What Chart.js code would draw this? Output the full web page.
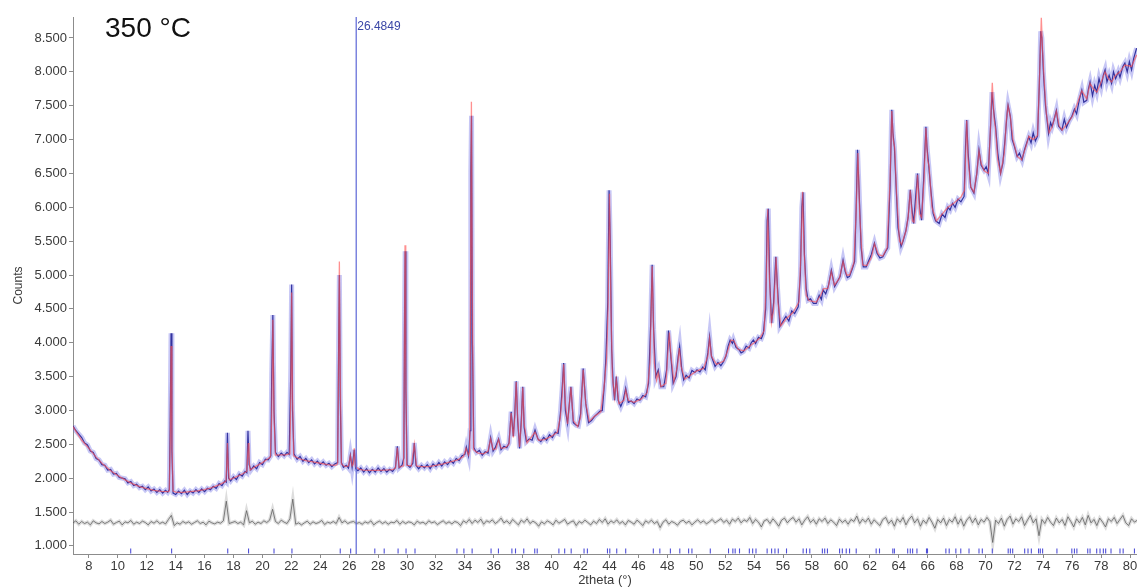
<!DOCTYPE html>
<html>
<head>
<meta charset="utf-8">
<script src="https://cdn.jsdelivr.net/npm/chart.js@4.4.1/dist/chart.umd.min.js"></script>
<style>
  html, body { margin: 0; padding: 0; background: #fff; }
  #wrap { width: 1142px; height: 588px; }
</style>
</head>
<body>
<div id="wrap"><canvas id="xrd"></canvas></div>
<script>
// labels
const sampleLabel = '350 °C';
const cursorTheta = 26.4849;
const xTitle = '2theta (°)';
const yTitle = 'Counts';
const xTickValues = [8,10,12,14,16,18,20,22,24,26,28,30,32,34,36,38,40,42,44,46,48,50,52,54,56,58,60,62,64,66,68,70,72,74,76,78,80];
const yTickValues = [1000,1500,2000,2500,3000,3500,4000,4500,5000,5500,6000,6500,7000,7500,8000,8500];

// observed pattern [2theta, counts]
const observed = [
  [6.9,2770],[7.1,2700],[7.3,2650],[7.5,2600],[7.7,2520],[7.9,2490],[8.1,2400],[8.3,2380],[8.5,2290],[8.7,2270],
  [8.9,2200],[9.1,2190],[9.3,2120],[9.5,2130],[9.7,2060],[9.9,2070],[10.1,2010],[10.3,2000],[10.5,1990],[10.7,1930],
  [10.9,1950],[11.1,1890],[11.3,1910],[11.5,1860],[11.7,1880],[11.9,1830],[12.1,1870],[12.3,1810],[12.5,1840],[12.7,1790],
  [12.9,1830],[13.1,1780],[13.3,1820],[13.45,1790],[13.56,1830],[13.62,2800],[13.68,4140],[13.74,2400],[13.82,1780],
  [14.0,1760],[14.2,1810],[14.4,1770],[14.6,1820],[14.8,1760],[15.0,1810],[15.2,1780],[15.4,1830],[15.6,1790],[15.8,1840],
  [16.0,1800],[16.2,1850],[16.4,1830],[16.6,1880],[16.8,1850],[17.0,1920],[17.2,1890],[17.4,1960],[17.5,1940],
  [17.58,2670],[17.66,2000],[17.8,1960],[18.0,2020],[18.2,1980],[18.4,2060],[18.6,2030],[18.8,2100],[18.92,2080],
  [19.0,2700],[19.08,2200],[19.2,2120],[19.4,2180],[19.6,2140],[19.8,2230],[20.0,2200],[20.2,2280],[20.4,2270],
  [20.58,2330],[20.64,3500],[20.72,4410],[20.8,3000],[20.9,2380],[21.1,2320],[21.3,2370],[21.5,2330],[21.7,2380],
  [21.85,2350],[21.96,3600],[22.02,4860],[22.08,3000],[22.18,2360],[22.4,2280],[22.6,2320],[22.8,2250],[23.0,2290],
  [23.2,2230],[23.4,2270],[23.6,2210],[23.8,2250],[24.0,2200],[24.2,2240],[24.4,2190],[24.6,2220],[24.8,2170],
  [25.0,2210],[25.2,2230],[25.27,4000],[25.32,5000],[25.38,3200],[25.46,2230],[25.6,2160],[25.8,2190],[25.95,2150],
  [26.08,2340],[26.2,2160],[26.35,2420],[26.45,2140],[26.6,2110],[26.8,2150],[27.0,2090],[27.2,2140],[27.4,2080],
  [27.6,2130],[27.8,2090],[28.0,2150],[28.2,2100],[28.4,2140],[28.6,2090],[28.8,2130],[29.0,2100],[29.2,2160],
  [29.33,2470],[29.45,2150],[29.65,2190],[29.78,2300],[29.83,4500],[29.87,5350],[29.92,3300],[30.0,2200],[30.2,2160],
  [30.4,2220],[30.5,2520],[30.62,2190],[30.8,2140],[31.0,2190],[31.2,2150],[31.4,2200],[31.6,2140],[31.8,2210],
  [32.0,2170],[32.2,2230],[32.4,2180],[32.6,2240],[32.8,2200],[33.0,2260],[33.2,2220],[33.4,2290],[33.6,2260],
  [33.8,2330],[34.0,2350],[34.1,2460],[34.25,2330],[34.36,2700],[34.41,6500],[34.46,7350],[34.52,4000],[34.62,2450],
  [34.8,2380],[35.0,2410],[35.2,2340],[35.4,2390],[35.6,2370],[35.78,2600],[35.95,2400],[36.1,2450],[36.33,2580],
  [36.5,2420],[36.7,2470],[36.9,2450],[37.05,2520],[37.2,2980],[37.35,2620],[37.45,2950],[37.55,3430],[37.65,2850],
  [37.78,2440],[37.9,2850],[38.0,3350],[38.1,2750],[38.25,2540],[38.45,2580],[38.65,2560],[38.85,2710],[39.05,2580],
  [39.25,2540],[39.45,2600],[39.65,2560],[39.85,2640],[40.05,2600],[40.25,2680],[40.45,2660],[40.6,2950],[40.72,3300],
  [40.83,3700],[40.95,3000],[41.1,2810],[41.33,3350],[41.5,2820],[41.7,2780],[41.85,2770],[42.0,2950],[42.18,3620],
  [42.36,3100],[42.55,2820],[42.75,2850],[42.95,2910],[43.15,2950],[43.35,2990],[43.5,3000],[43.65,3400],[43.75,3770],
  [43.88,4600],[43.97,6250],[44.05,5500],[44.15,3900],[44.25,3400],[44.35,3150],[44.47,3500],[44.6,3150],[44.78,3060],
  [44.95,3150],[45.12,3330],[45.3,3120],[45.5,3140],[45.7,3100],[45.9,3170],[46.1,3150],[46.3,3220],[46.5,3200],
  [46.7,3400],[46.85,4300],[46.95,5150],[47.05,4200],[47.2,3500],[47.37,3600],[47.55,3350],[47.75,3350],[47.95,3600],
  [48.08,4180],[48.2,3900],[48.4,3400],[48.6,3500],[48.75,3800],[48.85,3950],[49.0,3600],[49.13,3450],[49.3,3520],
  [49.5,3480],[49.7,3590],[49.9,3560],[50.05,3600],[50.25,3570],[50.45,3640],[50.62,3600],[50.8,3850],[50.92,4090],
  [51.05,3800],[51.3,3650],[51.5,3710],[51.7,3660],[51.88,3720],[52.05,3800],[52.2,3950],[52.34,4040],[52.5,3990],
  [52.57,4040],[52.75,3930],[52.95,3900],[53.1,3850],[53.26,3870],[53.45,3950],[53.65,3920],[53.8,4000],[53.95,4040],
  [54.1,3990],[54.3,4080],[54.5,4060],[54.64,4140],[54.8,4500],[54.9,5800],[54.98,5980],[55.08,4900],[55.21,4290],
  [55.35,4600],[55.5,5270],[55.62,4800],[55.78,4240],[55.95,4300],[56.2,4390],[56.4,4320],[56.6,4470],[56.8,4430],
  [57.05,4530],[57.2,5000],[57.3,6000],[57.38,6220],[57.48,5300],[57.6,4800],[57.73,4630],[57.9,4650],[58.1,4580],
  [58.3,4580],[58.5,4700],[58.65,4640],[58.77,4780],[58.95,4720],[59.15,4850],[59.34,5070],[59.57,4830],[59.75,4900],
  [59.95,4980],[60.15,5220],[60.3,5050],[60.45,4960],[60.6,4980],[60.8,5100],[60.95,5200],[61.06,6000],[61.15,6850],
  [61.25,6300],[61.4,5400],[61.55,5120],[61.75,5120],[61.9,5200],[62.1,5300],[62.32,5470],[62.5,5320],[62.7,5250],
  [62.9,5270],[63.1,5350],[63.24,5400],[63.4,6300],[63.52,7440],[63.6,7100],[63.7,6890],[63.82,6300],[63.95,5700],
  [64.16,5420],[64.3,5500],[64.5,5660],[64.65,5850],[64.8,6260],[64.9,6000],[65.03,5760],[65.15,6100],[65.3,6500],
  [65.45,6000],[65.58,5810],[65.72,6400],[65.88,7190],[65.95,6900],[66.06,6650],[66.2,6300],[66.38,5910],[66.55,5800],
  [66.8,5760],[67.0,5900],[67.2,5850],[67.4,6000],[67.55,5960],[67.72,6060],[67.9,6000],[68.1,6120],[68.3,6080],
  [68.52,6160],[68.62,6900],[68.7,7290],[68.8,6800],[68.98,6300],[69.2,6210],[69.4,6500],[69.55,6850],[69.7,6620],
  [69.9,6550],[70.05,6600],[70.19,6500],[70.33,7100],[70.45,7700],[70.55,7450],[70.7,7190],[70.85,6800],[71.04,6500],
  [71.2,6650],[71.35,7000],[71.5,7400],[71.56,7510],[71.72,7340],[71.85,7000],[72.0,6900],[72.19,6750],[72.35,6800],
  [72.53,6700],[72.7,6850],[72.85,6950],[72.99,7040],[73.15,6950],[73.3,7100],[73.45,6980],[73.6,7050],[73.72,7800],
  [73.82,8600],[73.9,8500],[74.02,7930],[74.15,7500],[74.36,7090],[74.5,7250],[74.6,7190],[74.75,7300],[74.9,7430],
  [75.05,7200],[75.28,7140],[75.45,7300],[75.6,7180],[75.8,7280],[75.97,7340],[76.15,7450],[76.3,7380],[76.5,7600],
  [76.66,7730],[76.8,7550],[77.0,7580],[77.12,7750],[77.23,7850],[77.4,7650],[77.55,7800],[77.69,7700],[77.85,7900],
  [78.0,7780],[78.15,7950],[78.27,8030],[78.4,7850],[78.55,7950],[78.72,7830],[78.85,8000],[79.0,7900],[79.18,8000],
  [79.3,7920],[79.5,8080],[79.64,8130],[79.8,8000],[79.95,8150],[80.1,8030],[80.25,8200],[80.45,8350]
];

// calculated profile [2theta, counts]
const calculated = [
  [6.9,2760],[7.5,2560],[8,2440],[8.5,2310],[9,2200],[9.5,2110],[10,2040],[10.5,1975],[11,1920],[11.5,1875],
  [12,1845],[12.5,1820],[13,1805],[13.5,1800],[13.56,1810],[13.62,2500],[13.68,3950],[13.74,2500],[13.82,1810],
  [14,1795],[14.5,1790],[15,1800],[15.5,1812],[16,1830],[16.5,1860],[17,1900],[17.4,1945],
  [17.48,1960],[17.53,2200],[17.58,2520],[17.63,2200],[17.7,1975],[18,2000],[18.5,2050],[18.85,2090],
  [18.92,2100],[18.97,2300],[19.02,2520],[19.07,2300],[19.14,2120],[19.5,2170],[20,2230],[20.4,2290],
  [20.55,2310],[20.64,2900],[20.72,4340],[20.8,2900],[20.9,2340],[21.2,2345],[21.6,2345],[21.85,2360],
  [21.9,2380],[21.96,3200],[22.02,4740],[22.08,3200],[22.16,2330],[22.5,2290],[23,2260],[23.5,2240],[24,2220],
  [24.5,2200],[25,2190],[25.15,2200],[25.2,2220],[25.26,3500],[25.32,5200],[25.38,3500],[25.46,2210],
  [25.7,2170],[25.95,2180],[26.08,2330],[26.2,2180],[26.28,2200],[26.35,2440],[26.44,2170],[26.7,2130],
  [27,2120],[27.5,2115],[28,2115],[28.5,2120],[29,2125],[29.2,2150],[29.33,2450],[29.45,2160],[29.72,2180],
  [29.76,2200],[29.81,3700],[29.86,5440],[29.91,3700],[29.98,2190],[30.3,2180],[30.5,2500],[30.65,2180],
  [31,2170],[31.5,2170],[32,2190],[32.5,2210],[33,2240],[33.5,2270],[33.9,2320],[34.08,2440],[34.25,2340],
  [34.33,2400],[34.39,4800],[34.45,7560],[34.51,4800],[34.6,2420],[34.9,2370],[35.3,2360],[35.6,2400],
  [35.78,2580],[35.95,2420],[36.15,2430],[36.33,2570],[36.5,2440],[36.8,2450],[37.05,2500],[37.2,2960],
  [37.35,2600],[37.45,2900],[37.55,3420],[37.65,2900],[37.78,2460],[37.9,2800],[38.0,3340],[38.1,2800],
  [38.3,2520],[38.85,2680],[39.1,2560],[39.5,2570],[40,2620],[40.4,2680],[40.6,2900],[40.72,3200],[40.83,3680],
  [40.95,3100],[41.1,2800],[41.33,3340],[41.5,2850],[41.8,2760],[42.0,2900],[42.18,3600],[42.36,3100],
  [42.6,2840],[43,2920],[43.4,2980],[43.65,3400],[43.8,3780],[43.9,4500],[44.0,6200],[44.1,4500],[44.2,3500],
  [44.35,3200],[44.47,3450],[44.65,3100],[45.0,3150],[45.12,3300],[45.3,3150],[45.7,3120],[46.2,3170],
  [46.6,3260],[46.8,3700],[46.95,5130],[47.1,3700],[47.25,3450],[47.37,3560],[47.55,3350],[47.9,3400],
  [48.05,3900],[48.14,4150],[48.25,3800],[48.45,3420],[48.7,3650],[48.83,3920],[48.95,3650],[49.2,3460],
  [49.6,3520],[50,3580],[50.5,3620],[50.8,3800],[50.92,4060],[51.05,3800],[51.4,3680],[51.9,3730],[52.2,3900],
  [52.4,4040],[52.6,4030],[52.9,3900],[53.3,3880],[53.7,3950],[54.0,4000],[54.4,4070],[54.7,4180],[54.85,5000],
  [54.94,5970],[55.05,5000],[55.2,4300],[55.35,4500],[55.52,5260],[55.65,4600],[55.85,4250],[56.2,4350],
  [56.7,4450],[57.1,4600],[57.25,5400],[57.35,6230],[57.45,5400],[57.6,4700],[57.8,4620],[58.3,4600],
  [58.6,4700],[58.8,4800],[59.1,4800],[59.34,5050],[59.55,4850],[59.9,4950],[60.15,5200],[60.4,5000],
  [60.6,5000],[60.9,5180],[61.05,5900],[61.18,6800],[61.3,5900],[61.5,5150],[61.8,5140],[62.1,5250],
  [62.32,5460],[62.6,5300],[62.9,5280],[63.2,5400],[63.4,6400],[63.52,7420],[63.62,7000],[63.72,6880],
  [63.85,6200],[64.05,5500],[64.2,5450],[64.5,5650],[64.65,5850],[64.8,6250],[64.95,5800],[65.05,5780],
  [65.18,6000],[65.3,6480],[65.45,5900],[65.58,5850],[65.75,6400],[65.88,7170],[66.0,6700],[66.1,6600],
  [66.3,6000],[66.6,5800],[67,5900],[67.4,6000],[67.8,6060],[68.3,6150],[68.55,6250],[68.63,6800],[68.7,7280],
  [68.8,6700],[68.98,6300],[69.2,6220],[69.4,6500],[69.55,6830],[69.7,6650],[69.9,6540],[70.2,6500],
  [70.35,7200],[70.47,7840],[70.6,7300],[70.7,7150],[70.85,6700],[71.05,6500],[71.3,6800],[71.45,7300],
  [71.56,7500],[71.72,7330],[71.9,7000],[72.2,6750],[72.5,6700],[72.8,6900],[73.0,7050],[73.3,7000],
  [73.6,7060],[73.75,8000],[73.86,8800],[73.95,8300],[74.05,7900],[74.2,7400],[74.4,7100],[74.6,7180],
  [74.9,7420],[75.1,7200],[75.3,7140],[75.7,7250],[76.0,7340],[76.3,7500],[76.66,7720],[77.0,7600],
  [77.23,7830],[77.45,7750],[77.7,7700],[78.0,7850],[78.27,8000],[78.5,7900],[78.72,7850],[79.0,7950],
  [79.3,8000],[79.64,8100],[80.1,8080],[80.45,8250]
];

// difference curve, sampled every 0.2 deg from 6.9
const diffStart = 6.9;
const diffStep = 0.2;
const difference = [
  1340,1370,1320,1360,1330,1350,1310,1370,1340,1325,
  1360,1330,1350,1380,1320,1345,1365,1310,1355,1340,
  1375,1320,1350,1330,1365,1345,1310,1360,1335,1370,
  1330,1350,1325,1390,1450,1300,1340,1320,1360,1335,
  1355,1320,1345,1370,1330,1350,1310,1365,1340,1325,
  1350,1335,1370,1660,1330,1345,1360,1330,1350,1310,
  1520,1340,1365,1320,1350,1330,1370,1345,1380,1540,
  1360,1330,1380,1350,1330,1400,1690,1320,1340,1310,
  1340,1365,1320,1355,1330,1345,1375,1315,1350,1335,
  1360,1330,1420,1340,1370,1330,1350,1360,1330,1345,
  1320,1355,1335,1370,1310,1345,1365,1330,1355,1320,
  1350,1340,1375,1320,1360,1330,1355,1345,1310,1365,
  1335,1350,1320,1370,1340,1355,1315,1345,1370,1330,
  1355,1325,1360,1345,1300,1370,1340,1390,1330,1380,
  1345,1395,1320,1370,1350,1385,1330,1360,1410,1340,
  1370,1325,1390,1350,1310,1380,1345,1400,1330,1365,
  1340,1290,1355,1325,1370,1345,1310,1380,1335,1360,
  1390,1320,1350,1370,1300,1360,1335,1380,1345,1310,
  1365,1330,1390,1345,1400,1320,1370,1340,1385,1330,
  1360,1310,1375,1350,1320,1380,1345,1300,1370,1340,
  1380,1330,1360,1270,1350,1385,1320,1360,1340,1305,
  1360,1380,1335,1365,1310,1350,1385,1340,1370,1325,
  1355,1390,1340,1370,1400,1345,1380,1320,1395,1360,
  1410,1340,1385,1360,1420,1330,1390,1350,1280,1370,
  1390,1330,1400,1350,1290,1380,1410,1340,1390,1420,
  1350,1400,1310,1380,1430,1345,1390,1320,1400,1360,
  1410,1330,1385,1350,1300,1395,1345,1380,1320,1390,
  1360,1440,1330,1395,1350,1410,1320,1385,1340,1300,
  1390,1420,1330,1380,1290,1400,1350,1420,1310,1390,
  1440,1340,1400,1290,1380,1330,1420,1350,1260,1390,
  1340,1410,1300,1390,1350,1430,1320,1400,1290,1380,
  1430,1340,1410,1310,1390,1350,1420,1360,1050,1380,
  1330,1410,1290,1390,1440,1320,1400,1360,1430,1300,
  1380,1450,1340,1400,1150,1390,1330,1420,1350,1300,
  1410,1340,1390,1300,1430,1360,1280,1400,1340,1420,
  1310,1450,1340,1390,1300,1410,1350,1280,1400,1360,
  1420,1330,1390,1450,1340,1300,1400,1350,1380
];

// reflection positions (2theta)
const reflections = [10.89,13.72,17.6,19.04,20.8,22.04,25.38,26.1,27.77,28.42,29.38,29.93,30.55,33.45,33.93,34.5,
  35.81,36.32,37.25,37.5,38.07,38.83,39.0,40.5,40.9,41.35,42.24,42.47,43.86,44.02,44.5,45.12,47.03,47.48,48.21,
  48.86,49.47,49.7,50.97,52.23,52.53,52.69,52.99,53.67,53.9,54.13,54.9,55.21,55.44,55.67,56.24,57.39,57.62,57.85,
  58.72,58.88,59.07,59.91,60.1,60.37,60.6,61.06,62.44,62.67,63.59,63.7,64.62,64.8,64.96,65.26,65.92,65.99,67.26,
  67.49,67.95,68.29,68.86,69.55,69.78,70.47,71.57,71.72,71.88,72.71,72.94,73.17,73.67,73.79,73.95,74.94,75.97,
  76.15,76.32,77.07,77.23,77.69,77.92,78.15,78.31,78.68,79.3,79.52,80.3];
const reflectionLevel = 925;

const xMin = 6.9, xMax = 80.47;
const yMin = 880, yMax = 8810;

const fontFamily = '"Liberation Sans", Arial, sans-serif';
const axisColor = '#8c8c8c';
const textColor = '#3a3a3a';

function thousands(v) {
  const k = Math.floor(v / 1000);
  return k + '.' + String(v % 1000).padStart(3, '0');
}

// cursor line, its label and the temperature tag
const overlayPlugin = {
  id: 'overlay',
  afterDatasetsDraw(chart) {
    const { ctx, chartArea, scales } = chart;
    const px = scales.x.getPixelForValue(cursorTheta);
    ctx.save();
    ctx.strokeStyle = 'rgba(95,105,215,0.95)';
    ctx.lineWidth = 1.3;
    ctx.beginPath();
    ctx.moveTo(px, chartArea.top);
    ctx.lineTo(px, chartArea.bottom);
    ctx.stroke();
    ctx.fillStyle = '#3a46a6';
    ctx.font = '12px ' + fontFamily;
    ctx.textBaseline = 'alphabetic';
    ctx.fillText(cursorTheta.toFixed(4), px + 1, chartArea.top + 13);
    ctx.fillStyle = '#111';
    ctx.font = '28px ' + fontFamily;
    ctx.fillText(sampleLabel, chartArea.left + 32, chartArea.top + 20);
    ctx.restore();
  }
};

const toPoints = arr => arr.map(p => ({ x: p[0], y: p[1] }));
const obsPoints = toPoints(observed);
const diffPoints = difference.map((v, i) => ({ x: diffStart + i * diffStep, y: v }));

new Chart(document.getElementById('xrd'), {
  type: 'line',
  data: {
    datasets: [
      {
        label: 'calc',
        data: toPoints(calculated),
        borderColor: 'rgba(255,85,85,0.65)',
        borderWidth: 1.3,
        pointRadius: 0,
        order: 1
      },
      {
        label: 'obs',
        data: obsPoints,
        borderColor: 'rgba(35,35,150,0.9)',
        borderWidth: 1.2,
        pointRadius: 0,
        order: 2
      },
      {
        label: 'obs band',
        data: obsPoints,
        borderColor: 'rgba(95,95,225,0.35)',
        borderWidth: 5,
        pointRadius: 0,
        order: 3
      },
      {
        label: 'diff',
        data: diffPoints,
        borderColor: 'rgba(90,90,90,0.75)',
        borderWidth: 1,
        pointRadius: 0,
        order: 4
      },
      {
        label: 'diff band',
        data: diffPoints,
        borderColor: 'rgba(120,120,120,0.25)',
        borderWidth: 3.5,
        pointRadius: 0,
        order: 5
      },
      {
        label: 'hkl',
        type: 'scatter',
        data: reflections.map(t => ({ x: t, y: reflectionLevel })),
        pointStyle: 'line',
        rotation: 90,
        pointRadius: 2.5,
        borderColor: '#5050d8',
        borderWidth: 1.1,
        order: 0
      }
    ]
  },
  options: {
    responsive: true,
    maintainAspectRatio: false,
    animation: false,
    layout: { padding: { top: 17, right: 0, left: 0, bottom: 0 } },
    elements: { line: { tension: 0 } },
    plugins: {
      legend: { display: false },
      tooltip: { enabled: false }
    },
    scales: {
      x: {
        type: 'linear',
        min: xMin,
        max: xMax,
        afterBuildTicks: s => { s.ticks = xTickValues.map(v => ({ value: v })); },
        afterFit: s => {
          s.height = 34;
          s.paddingLeft = 0; s.paddingRight = 0; s.paddingTop = 0; s.paddingBottom = 0;
        },
        grid: { drawOnChartArea: false, drawTicks: true, tickLength: 4, color: axisColor },
        border: { color: axisColor, width: 1 },
        ticks: {
          color: textColor,
          font: { family: fontFamily, size: 13 },
          padding: 1,
          maxRotation: 0,
          autoSkip: false
        },
        title: {
          display: true,
          text: xTitle,
          color: textColor,
          font: { family: fontFamily, size: 13 },
          padding: { top: 0, bottom: 0 }
        }
      },
      y: {
        type: 'linear',
        min: yMin,
        max: yMax,
        afterBuildTicks: s => { s.ticks = yTickValues.map(v => ({ value: v })); },
        afterFit: s => {
          s.width = 73;
          s.paddingLeft = 0; s.paddingRight = 0; s.paddingTop = 0; s.paddingBottom = 0;
        },
        grid: { drawOnChartArea: false, drawTicks: true, tickLength: 4, color: axisColor },
        border: { color: axisColor, width: 1 },
        ticks: {
          color: textColor,
          font: { family: fontFamily, size: 13 },
          padding: 2,
          callback: v => thousands(v)
        },
        title: {
          display: true,
          text: yTitle,
          color: textColor,
          font: { family: fontFamily, size: 12 },
          padding: { top: 11, bottom: 0 }
        }
      }
    }
  },
  plugins: [overlayPlugin]
});
</script>
</body>
</html>
